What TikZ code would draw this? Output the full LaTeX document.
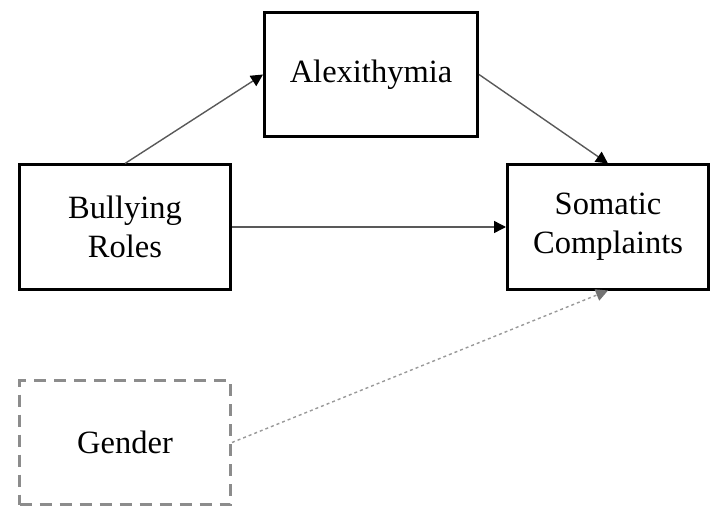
\documentclass[tikz,border=0pt]{standalone}
\usepackage{fontspec}
\setmainfont{Liberation Serif}
\usetikzlibrary{arrows.meta}

\tikzset{
  varbox/.style={draw, line width=3pt, minimum width=211pt, minimum height=124pt,
    inner sep=0pt, align=center, font=\fontsize{32.5}{39}\selectfont},
  ctrlbox/.style={varbox, draw=black!45, dash pattern=on 12pt off 8pt},
  link/.style={draw=black!65, line width=1.4pt,
    -{Triangle[length=12pt,width=12pt,color=black]}},
  ctrllink/.style={draw=black!40, line width=1.4pt, dash pattern=on 3pt off 3pt,
    -{Triangle[length=12pt,width=12pt,color=black!55]}}
}

\begin{document}
\begin{tikzpicture}[x=1pt,y=1pt]
    \useasboundingbox (0,0) rectangle (712,507);
    \node[varbox] (bully) at (125,280) {Bullying\\Roles};
    \node[varbox, minimum width=213pt] (alex) at (371,432.5) {Alexithymia};
    \node[varbox, minimum width=201pt] (soma) at (608,280) {Somatic\\Complaints};
    \node[ctrlbox] (gend) at (125,64.5) {Gender};

    \draw[link] (bully.north) -- (alex.west);
    \draw[link] (alex.east) -- (soma.north);
    \draw[link] (bully.east) -- (soma.west);
    \draw[ctrllink] (gend.east) -- (soma.south);
  \end{tikzpicture}
\end{document}
